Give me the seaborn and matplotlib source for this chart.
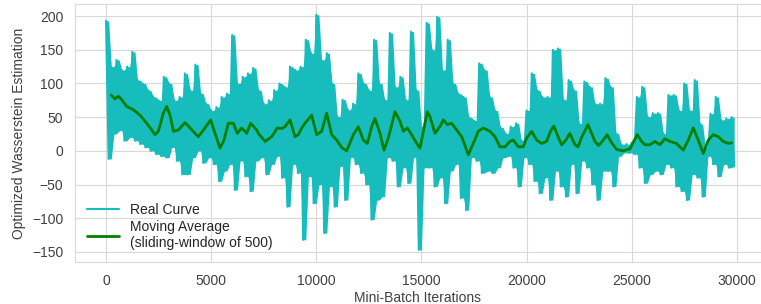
import numpy as np
import pandas as pd
import matplotlib
matplotlib.use("Agg")
import matplotlib.pyplot as plt
import seaborn as sns

# real curve: upper / lower extent per 250-iteration bin
iters = np.arange(0, 30000, 250)
real_hi = [193, 125, 135, 120, 125, 147, 105, 100, 90, 80, 75, 110, 100, 75, 80, 115,
           90, 128, 85, 70, 60, 65, 80, 85, 172, 100, 110, 115, 123, 90, 70, 75,
           90, 100, 95, 125, 120, 125, 165, 145, 202, 135, 145, 100, 51, 76, 61, 70,
           115, 100, 90, 165, 100, 76, 175, 95, 110, 76, 177, 90, 36, 190, 150, 199,
           120, 165, 100, 85, 80, 50, 45, 130, 120, 80, 60, 35, 26, 36, 41, 16,
           60, 115, 90, 80, 80, 150, 152, 76, 105, 90, 41, 103, 95, 70, 70, 108,
           95, 26, 10, 10, 12, 80, 95, 51, 56, 56, 26, 83, 83, 60, 100, 60,
           105, 40, 6, 55, 80, 46, 48, 50]
real_lo = [-12, 25, 30, 15, 20, 15, 10, 5, 0, -5, -8, -10, 5, -15, -35, -35,
           -10, 0, -18, -10, -20, -45, -30, -20, -58, -15, -38, -60, -15, -10, -35, -20,
           -8, -40, -83, -20, -33, -132, -38, -78, -50, -122, -53, -83, -23, -73, -10, -20,
           -33, -50, -102, -73, -68, -10, -15, -53, -25, -48, -10, -147, -25, -25, -53, -40,
           -78, -30, -20, -70, -88, -10, -15, -33, -30, -33, -25, -10, -8, -25, -53, -10,
           -20, -45, -63, -40, -73, -30, -53, -68, -20, -63, -15, -25, -50, -73, -30, -30,
           -53, -8, -3, -3, -5, -25, -48, -35, -30, -35, -20, -25, -53, -60, -73, -35,
           -40, -68, -8, -20, -38, -20, -25, -23]

# moving average (sliding window of 500)
ma_iters = [238, 428, 586, 745, 983, 1300, 1617, 1934, 2172, 2330, 2489, 2726, 2885,
            3043, 3202, 3440, 3756, 3994, 4390, 4707, 4976, 5183, 5421, 5611, 5817,
            6054, 6245, 6451, 6689, 6879, 7165, 7244, 7561, 7878, 8148, 8354, 8512,
            8750, 8987, 9146, 9304, 9463, 9780, 10018, 10256, 10494, 10732, 10970,
            11207, 11445, 11762, 11999, 12237, 12427, 12634, 12791, 13029, 13219,
            13425, 13742, 13980, 14138, 14329, 14535, 14773, 14931, 15169, 15280,
            15406, 15644, 15882, 16040, 16230, 16437, 16675, 16913, 17071, 17229,
            17466, 17704, 17942, 18259, 18497, 18735, 18972, 19210, 19369, 19607,
            19844, 20003, 20241, 20479, 20716, 20954, 21150, 21300, 21510, 21670,
            21850, 22060, 22301, 22450, 22619, 22920, 23252, 23420, 23600, 23830,
            24045, 24283, 24599, 24917, 25265, 25471, 25630, 25867, 26105, 26343,
            26581, 26818, 27135, 27452, 27690, 27928, 28165, 28403, 28641, 28879,
            29116, 29354, 29592, 29750]
ma_vals = [83, 77, 81, 76, 66, 61, 53, 41, 31, 24, 29, 56, 66,
           53, 29, 31, 42, 34, 21, 34, 46, 26, 4, 16, 41,
           41, 26, 34, 26, 41, 31, 26, 14, 21, 34, 33, 36,
           46, 21, 24, 34, 41, 53, 24, 29, 56, 24, 16,
           5, 0, 24, 36, 16, 11, 36, 48, 26, 1,
           19, 58, 44, 29, 34, 24, 11, 4, 41, 58,
           51, 26, 36, 46, 39, 41, 31, 21, 8, -6,
           11, 29, 34, 29, 21, 6, 6, 14, 16, 6,
           6, 19, 29, 16, 11, 14, 30, 37, 20, 9,
           15, 26, 9, 6, 20, 39, 14, 8, 14, 24,
           12, 2, 0, 3, 24, 14, 9, 9, 14, 9,
           18, 14, 11, 1, 16, 34, 16, -4, 16, 24,
           21, 14, 11, 12]

sns.set_style("whitegrid", {"grid.color": ".85", "axes.edgecolor": ".85"})
plt.rcParams["font.family"] = ["Liberation Sans", "DejaVu Sans"]

real_df = pd.DataFrame({
    "iter": np.column_stack([iters, iters + 125]).ravel(),
    "value": np.column_stack([real_hi, real_lo]).ravel(),
})
ma_df = pd.DataFrame({"iter": ma_iters, "value": ma_vals})

fig = plt.figure(figsize=(7.61, 3.04), dpi=100)
ax = fig.add_axes([75 / 761, 1 - 262 / 304, 1 - 75 / 761, (262 - 4) / 304])

cyan = "#17bcbc"
# dense band of the raw curve
ax.fill_between(real_df["iter"], real_df["value"].rolling(2, min_periods=1).max(),
                real_df["value"].rolling(2, min_periods=1).min(),
                color=cyan, lw=0)
sns.lineplot(data=real_df, x="iter", y="value", color=cyan, lw=1.5,
             estimator=None, ax=ax, label="Real Curve")
sns.lineplot(data=ma_df, x="iter", y="value", color="g", lw=2,
             estimator=None, ax=ax, label="Moving Average\n(sliding-window of 500)")

ax.set_xlim(-1475, 31150)
ax.set_ylim(-165, 218)
ax.set_xticks([0, 5000, 10000, 15000, 20000, 25000, 30000])
ax.set_yticks([-150, -100, -50, 0, 50, 100, 150, 200])
ax.tick_params(labelsize=10, colors=".25", pad=5)
ax.set_xlabel("Mini-Batch Iterations", fontsize=10, color=".25", labelpad=2)
ax.set_ylabel("Optimized Wasserstein Estimation", fontsize=10, color=".25", labelpad=4)
ax.legend(loc="lower left", frameon=False, fontsize=10, handlelength=2.3,
          borderaxespad=0.45, labelspacing=0.25, handletextpad=0.8)

fig.savefig("out.png", dpi=100)
